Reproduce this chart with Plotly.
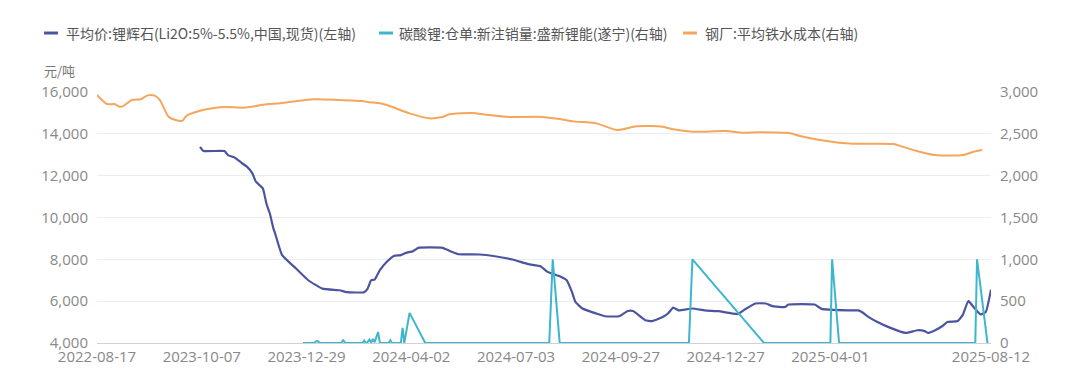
import plotly.graph_objects as go

# category positions (index along the date axis) and tick labels
tick_idx = [0, 60, 120, 180, 240, 300, 360, 420, 512]
tick_labels = ["2022-08-17", "2023-10-07", "2023-12-29", "2024-04-02", "2024-07-03",
               "2024-09-27", "2024-12-27", "2025-04-01", "2025-08-12"]

# 平均价:锂辉石 (left axis, 元/吨)
spod_idx = [59, 61, 73, 75, 79, 83, 86, 89, 91, 95, 97, 99, 101, 102, 106, 114, 121, 129, 139, 143,
            153, 155, 157, 159, 162, 166, 170, 174, 177, 181, 184, 198, 202, 207, 219, 227, 238, 247,
            254, 258, 265, 269, 272, 274, 278, 286, 291, 299, 304, 307, 314, 318, 324, 327, 330, 333,
            341, 348, 356, 367, 371, 377, 383, 387, 394, 396, 411, 415, 430, 436, 438, 442, 447, 453,
            463, 470, 474, 476, 480, 484, 487, 493, 496, 499, 502, 506, 509, 512]
spod_val = [13380, 13180, 13180, 12980, 12860, 12600, 12420, 12110, 11710, 11390, 10670, 10190, 9480,
            9240, 8200, 7560, 7000, 6600, 6520, 6430, 6430, 6600, 7000, 7030, 7480, 7880, 8160, 8200,
            8310, 8390, 8550, 8550, 8400, 8245, 8230, 8160, 7990, 7770, 7670, 7400, 7190, 7000, 6440,
            5960, 5650, 5410, 5280, 5280, 5530, 5530, 5090, 5050, 5240, 5410, 5690, 5560, 5650, 5560,
            5520, 5390, 5600, 5890, 5890, 5760, 5720, 5840, 5840, 5630, 5560, 5560, 5480, 5240, 5000,
            4770, 4480, 4610, 4570, 4480, 4610, 4800, 5000, 5050, 5370, 6010, 5720, 5370, 5480, 6550]

# 碳酸锂:仓单:新注销量 (right axis)
li_idx = [118, 124, 126, 128, 140, 141, 142, 152, 153, 154, 155, 156, 157, 158, 159, 161, 162, 167,
          168, 169, 174, 175, 176, 177, 179, 188, 259, 261, 265, 339, 341, 382, 420, 421, 425, 503,
          504, 510]
li_val = [0, 0, 24, 0, 0, 40, 0, 0, 30, 0, 12, 41, 5, 48, 10, 132, 0, 0,
          32, 0, 0, 180, 0, 112, 360, 0, 0, 1000, 0, 0, 1000, 0, 0, 1000, 0, 0,
          1000, 0]

# 钢厂:平均铁水成本 (right axis)
fe_idx = [0, 5, 7, 10, 13, 15, 20, 25, 29, 33, 36, 41, 45, 49, 51, 59, 67, 74, 84, 97, 105, 124,
          139, 152, 155, 162, 166, 179, 190, 197, 202, 215, 223, 236, 252, 265, 273, 286, 298, 309,
          324, 330, 341, 360, 370, 379, 397, 402, 414, 425, 433, 456, 459, 469, 480, 496, 502, 507]
fe_val = [2964, 2865, 2853, 2856, 2824, 2832, 2904, 2913, 2960, 2956, 2904, 2704, 2665, 2657, 2713,
          2776, 2809, 2821, 2812, 2853, 2865, 2913, 2904, 2892, 2880, 2865, 2844, 2745, 2685, 2697,
          2733, 2749, 2728, 2701, 2704, 2677, 2649, 2625, 2545, 2590, 2585, 2554, 2525, 2533, 2513,
          2518, 2506, 2477, 2426, 2393, 2381, 2378, 2362, 2298, 2246, 2246, 2286, 2306]

names = ["平均价:锂辉石(Li2O:5%-5.5%,中国,现货)(左轴)",
         "碳酸锂:仓单:新注销量:盛新锂能(遂宁)(右轴)",
         "钢厂:平均铁水成本(右轴)"]
colors = ["#4b559f", "#3db6cd", "#f5a65b"]

FONT = "Noto Sans CJK SC, Microsoft YaHei, sans-serif"
TICKFONT = "Open Sans, sans-serif"

fig = go.Figure()
fig.add_trace(go.Scatter(x=fe_idx, y=fe_val, name=names[2], yaxis="y2", mode="lines",
                         line=dict(color=colors[2], width=2, shape="spline", smoothing=0.7)))
fig.add_trace(go.Scatter(x=li_idx, y=li_val, name=names[1], yaxis="y2", mode="lines",
                         line=dict(color=colors[1], width=2)))
fig.add_trace(go.Scatter(x=spod_idx, y=spod_val, name=names[0], yaxis="y", mode="lines",
                         line=dict(color=colors[0], width=2.2, shape="spline", smoothing=0.4)))

# custom legend (line marker + text), positions in paper coordinates
leg_sym = [(-0.0593, -0.0436), (0.3154, 0.3311), (0.6555, 0.6711)]
leg_txt = [-0.0369, 0.3356, 0.6779]
for i, (a, b) in enumerate(leg_sym):
    fig.add_shape(type="line", xref="paper", yref="paper", x0=a, x1=b, y0=1.235, y1=1.235,
                  line=dict(color=colors[i], width=3))
    fig.add_annotation(xref="paper", yref="paper", x=leg_txt[i], y=1.235, text=names[i],
                       showarrow=False, xanchor="left", yanchor="middle",
                       font=dict(family=FONT, size=14, color="#555555"))

fig.add_annotation(xref="paper", yref="paper", x=-0.0615, y=1.085, text="元/吨", showarrow=False,
                   xanchor="left", yanchor="middle", font=dict(family=FONT, size=13, color="#777777"))

# page body has an 8px margin, so the figure is sized/offset to keep the plot area in place
fig.update_layout(
    width=1072, height=384,
    margin=dict(l=89, r=89, t=84, b=49),
    paper_bgcolor="white", plot_bgcolor="white",
    showlegend=False,
    font=dict(family=FONT, size=14, color="#888888"),
    xaxis=dict(range=[0, 512], tickmode="array", tickvals=tick_idx, ticktext=tick_labels,
               showgrid=False, zeroline=False, showline=True, linecolor="#cfd0dc", linewidth=1,
               ticks="", tickfont=dict(family=TICKFONT, size=15, color="#888888")),
    yaxis=dict(range=[4000, 16000], dtick=2000, tickformat=",", showgrid=True,
               gridcolor="#ececf4", zeroline=False, ticks="", ticklabelstandoff=8,
               tickfont=dict(family=TICKFONT, size=15, color="#888888")),
    yaxis2=dict(range=[0, 3000], dtick=500, tickformat=",", overlaying="y", side="right",
                showgrid=False, zeroline=False, ticks="", ticklabelstandoff=8,
                tickfont=dict(family=TICKFONT, size=15, color="#888888")),
)

fig.write_html("out.html")
